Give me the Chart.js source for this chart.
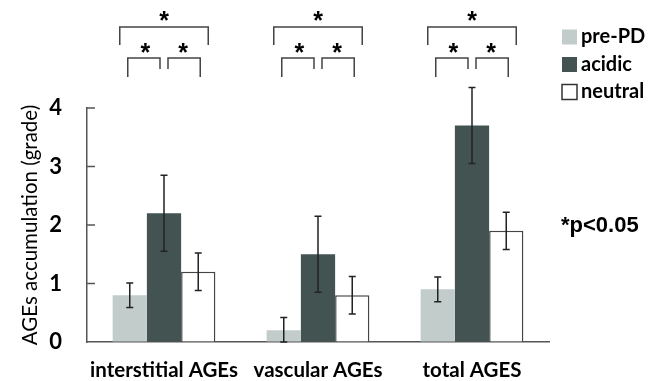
<!DOCTYPE html>
<html>
<head>
<meta charset="utf-8">
<script src="https://cdn.jsdelivr.net/npm/chart.js@4.4.0/dist/chart.umd.min.js"></script>
<style>
  body { margin: 0; background: #fff; }
</style>
</head>
<body>
<canvas id="myChart" width="664" height="381"></canvas>
<script>
const categories = ['interstitial AGEs', 'vascular AGEs', 'total AGES'];
const seriesNames = ['pre-PD', 'acidic', 'neutral'];
const prePD = [0.8, 0.2, 0.9];
const acidic = [2.2, 1.5, 3.7];
const neutral = [1.2, 0.8, 1.9];
const prePDErr = [0.21, 0.22, 0.21];
const acidicErr = [0.65, 0.65, 0.65];
const neutralErr = [0.32, 0.32, 0.32];
const yTicks = [0, 1, 2, 3, 4];

const errors = [prePDErr, acidicErr, neutralErr];

const errorBars = {
  id: 'errorBars',
  afterDatasetsDraw(chart) {
    const ctx = chart.ctx;
    const y = chart.scales.y;
    ctx.save();
    ctx.strokeStyle = '#222';
    ctx.lineWidth = 1.5;
    chart.data.datasets.forEach((ds, i) => {
      const meta = chart.getDatasetMeta(i);
      meta.data.forEach((bar, j) => {
        const v = ds.data[j], e = errors[i][j];
        const top = y.getPixelForValue(v + e);
        const bot = Math.min(y.getPixelForValue(v - e), y.getPixelForValue(0));
        ctx.beginPath();
        ctx.moveTo(bar.x, top); ctx.lineTo(bar.x, bot);
        ctx.moveTo(bar.x - 3.5, top); ctx.lineTo(bar.x + 3.5, top);
        ctx.moveTo(bar.x - 3.5, bot); ctx.lineTo(bar.x + 3.5, bot);
        ctx.stroke();
      });
    });
    ctx.restore();
  }
};

const extras = {
  id: 'extras',
  afterDraw(chart) {
    const ctx = chart.ctx;
    const area = chart.chartArea;
    const y = chart.scales.y;
    ctx.save();

    // inward ticks on y axis
    ctx.strokeStyle = '#555';
    ctx.lineWidth = 1.5;
    yTicks.slice(1).forEach(t => {
      const py = y.getPixelForValue(t);
      ctx.beginPath();
      ctx.moveTo(area.left, py); ctx.lineTo(area.left + 8, py);
      ctx.stroke();
    });

    // significance brackets
    const m0 = chart.getDatasetMeta(0), m1 = chart.getDatasetMeta(1), m2 = chart.getDatasetMeta(2);
    ctx.strokeStyle = '#444';
    ctx.lineWidth = 1.5;
    ctx.fillStyle = '#000';
    ctx.font = 'bold 25px "Liberation Sans"';
    ctx.textAlign = 'center';
    ctx.textBaseline = 'alphabetic';
    categories.forEach((c, j) => {
      const c0 = m0.data[j].x, c1 = m1.data[j].x, c2 = m2.data[j].x;
      // outer
      ctx.beginPath();
      ctx.moveTo(c0 - 10, 45); ctx.lineTo(c0 - 10, 27); ctx.lineTo(c2 + 10, 27); ctx.lineTo(c2 + 10, 45);
      ctx.stroke();
      ctx.fillText('*', c1, 29);
      // inner left
      ctx.beginPath();
      ctx.moveTo(c0 - 2, 77); ctx.lineTo(c0 - 2, 58); ctx.lineTo(c1 - 4, 58); ctx.lineTo(c1 - 4, 69);
      ctx.stroke();
      ctx.fillText('*', (c0 + c1) / 2 - 1.5, 61);
      // inner right
      ctx.beginPath();
      ctx.moveTo(c1 + 4, 69); ctx.lineTo(c1 + 4, 58); ctx.lineTo(c2 + 2, 58); ctx.lineTo(c2 + 2, 77);
      ctx.stroke();
      ctx.fillText('*', (c1 + c2) / 2 + 2, 61);
    });

    // legend
    ctx.textAlign = 'left';
    ctx.textBaseline = 'middle';
    ctx.font = 'bold 20px Lato';
    chart.data.datasets.forEach((ds, i) => {
      const ly = 37 + i * 27.5;
      ctx.fillStyle = ds.backgroundColor;
      ctx.fillRect(562, ly - 7.5, 15, 15);
      if (ds.borderWidth) {
        ctx.strokeStyle = '#333';
        ctx.lineWidth = 1.5;
        ctx.strokeRect(562, ly - 7.5, 15, 15);
      }
      ctx.fillStyle = '#000';
      ctx.fillText(ds.label, 581, ly);
    });

    ctx.font = 'bold 22px "Liberation Sans"';
    ctx.fillText('*p<0.05', 561, 226);
    ctx.restore();
  }
};

new Chart(document.getElementById('myChart').getContext('2d'), {
  type: 'bar',
  data: {
    labels: categories,
    datasets: [
      { label: seriesNames[0], data: prePD, backgroundColor: '#c1cccb', borderWidth: 0 },
      { label: seriesNames[1], data: acidic, backgroundColor: '#435352', borderWidth: 0 },
      { label: seriesNames[2], data: neutral, backgroundColor: '#ffffff', borderColor: '#444', borderWidth: 1.5 }
    ]
  },
  options: {
    responsive: false,
    animation: false,
    categoryPercentage: 0.667,
    barPercentage: 1,
    layout: { padding: { top: 108, right: 115, left: 0, bottom: 0 } },
    plugins: {
      legend: { display: false },
      tooltip: { enabled: false }
    },
    scales: {
      x: {
        grid: { display: true, drawOnChartArea: false, drawTicks: false },
        border: { color: '#555', width: 1.5 },
        ticks: { color: '#000', font: { family: 'Lato', size: 20.5, weight: 'bold' }, padding: 16 },
        afterFit(s) { s.height = 39; }
      },
      y: {
        min: 0,
        max: 4,
        grid: { display: true, drawOnChartArea: false, drawTicks: false },
        border: { color: '#555', width: 1.5 },
        ticks: {
          stepSize: 1,
          color: '#000',
          font: { family: 'Lato', size: 22, weight: 'bold' },
          padding: 25
        },
        afterBuildTicks(s) { s.ticks = yTicks.map(v => ({ value: v })); },
        title: {
          display: true,
          text: 'AGEs accumulation (grade)',
          color: '#000',
          font: { family: 'Lato', size: 20.5 },
          padding: { top: 18, bottom: 0 }
        },
        afterFit(s) { s.width = 87; }
      }
    }
  },
  plugins: [errorBars, extras]
});
</script>
</body>
</html>
